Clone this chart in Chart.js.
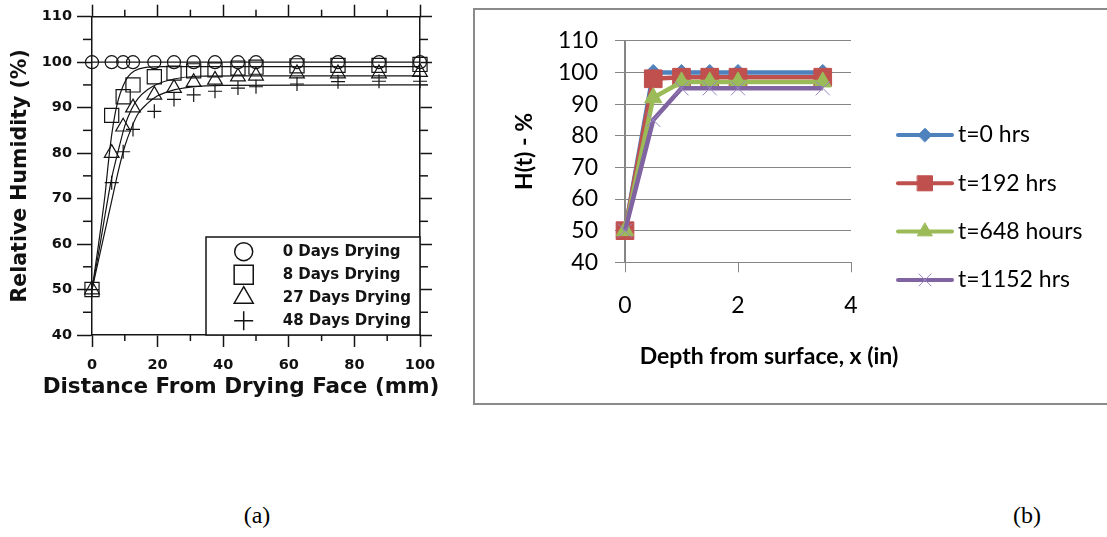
<!DOCTYPE html>
<html>
<head>
<meta charset="utf-8">
<script src="https://cdn.jsdelivr.net/npm/chart.js@4.4.0/dist/chart.umd.min.js"></script>
<style>
  html, body { margin: 0; padding: 0; background: #fff; width: 1107px; height: 537px; overflow: hidden; }
  #wrapA { position: absolute; left: 0; top: 0; width: 482px; height: 410px; }
  #frameB { position: absolute; left: 473px; top: 8px; width: 700px; height: 393px; border: 2px solid #8a8a8a; }
  #wrapB { position: absolute; left: 475px; top: 10px; width: 632px; height: 393px; }
  .cap { position: absolute; top: 502px; width: 100px; text-align: center;
         font-family: "Liberation Serif", "Times New Roman", serif; font-size: 24px; color: #000; }
</style>
</head>
<body>
<div id="wrapA"><canvas id="chartA" width="482" height="410"></canvas></div>
<div id="frameB"></div>
<div id="wrapB"><canvas id="chartB" width="632" height="393"></canvas></div>
<div class="cap" style="left:207px;">(a)</div>
<div class="cap" style="left:977px;">(b)</div>

<script>
// ---------- (a) measured relative humidity vs. distance from the drying face ----------
const distanceMm = [0, 6, 9.5, 12.5, 19, 25, 31, 37.5, 44.5, 50, 62.5, 75, 87.5, 100];
const rhDay0  = [100, 100, 100, 100, 100, 100, 100, 100, 100, 100, 100, 100, 100, 100];
const rhDay8  = [50, 88.3, 92.4, 95, 96.8, 97.6, 98.1, 98.3, 98.7, 98.9, 99.2, 99.3, 99.3, 99.5];
const rhDay27 = [50, 80, 85.8, 90, 92.8, 94.3, 95.6, 96.1, 96.8, 97, 97.5, 97.5, 97.5, 97.8];
const rhDay48 = [50, 73.5, 80.3, 85.2, 89.2, 91.8, 92.8, 93.6, 94.3, 94.6, 95.2, 95.7, 95.8, 95.8];

// fitted profiles drawn through the measurements
const fitDay0X  = [0, 100];
const fitDay0Y  = [100, 100];
const fitDay8X  = [0, 2, 4, 5, 6, 7, 8, 9.5, 11, 13, 16, 22, 100];
const fitDay8Y  = [50, 60, 71, 78, 84, 88.5, 91.7, 94.8, 96.8, 98.1, 98.8, 99, 99];
const fitDay27X = [0, 2, 4, 6, 8, 10, 12, 14, 17, 20, 25, 32, 45, 100];
const fitDay27Y = [50, 58, 66.5, 74.5, 80.5, 86, 89.6, 92, 94, 95.2, 96.3, 96.9, 97, 97];
const fitDay48X = [0, 2, 4, 6, 8, 10, 12, 14, 17, 20, 24, 30, 40, 100];
const fitDay48Y = [50, 56.5, 63, 69.5, 76, 81.5, 85.5, 88.6, 91, 92.6, 93.7, 94.5, 94.9, 95];

const distanceTicks = [0, 20, 40, 60, 80, 100];
const distanceMinor = [10, 30, 50, 70, 90];
const rhTicks = [40, 50, 60, 70, 80, 90, 100, 110];
const rhMinor = [45, 55, 65, 75, 85, 95, 105];

// ---------- (b) H(t) vs. depth from surface ----------
const depthIn   = [0, 0.5, 1, 1.5, 2, 3.5];
const hT0       = [50, 100, 100, 100, 100, 100];
const hT192     = [50, 98, 98.5, 98.5, 98.5, 98.5];
const hT648     = [50, 92, 97, 97, 97, 97];
const hT1152    = [50, 85, 95, 95, 95, 95];
const depthTicks = [0, 2, 4];
const hTicks     = [40, 50, 60, 70, 80, 90, 100, 110];

const toXY = (xs, ys) => xs.map((x, i) => ({ x, y: ys[i] }));
const useTicks = (vals) => (scale) => { scale.ticks = vals.map(v => ({ value: v })); };

// short minor tick marks on the outside of each framed axis
const minorTicks = {
  id: 'minorTicks',
  afterDraw(chart, args, opts) {
    const { ctx } = chart;
    ctx.save();
    ctx.strokeStyle = opts.color;
    ctx.lineWidth = opts.width;
    for (const [id, cfg] of Object.entries(opts.axes || {})) {
      const s = chart.scales[id];
      if (!s) continue;
      cfg.values.forEach(v => {
        const p = s.getPixelForValue(v);
        ctx.beginPath();
        if (s.position === 'bottom') { ctx.moveTo(p, s.top); ctx.lineTo(p, s.top + cfg.length); }
        else if (s.position === 'top') { ctx.moveTo(p, s.bottom); ctx.lineTo(p, s.bottom - cfg.length); }
        else if (s.position === 'left') { ctx.moveTo(s.right, p); ctx.lineTo(s.right - cfg.length, p); }
        else { ctx.moveTo(s.left, p); ctx.lineTo(s.left + cfg.length, p); }
        ctx.stroke();
      });
    }
    ctx.restore();
  }
};

// framed symbol legend in the lower right corner of the plot
const boxedLegend = {
  id: 'boxedLegend',
  afterDatasetsDraw(chart, args, opts) {
    const { ctx, chartArea: ca } = chart;
    const left = ca.right - opts.width, top = ca.bottom - opts.height;
    ctx.save();
    ctx.fillStyle = '#fff';
    ctx.fillRect(left, top, opts.width, opts.height);
    ctx.strokeStyle = opts.color;
    ctx.lineWidth = 1.5;
    ctx.strokeRect(left, top, opts.width, opts.height);
    ctx.font = opts.font;
    ctx.textBaseline = 'middle';
    chart.data.datasets.filter(d => d.legendRadius).forEach((d, i) => {
      const y = top + opts.firstRow + i * opts.rowGap;
      ctx.fillStyle = 'rgba(0,0,0,0)';
      ctx.strokeStyle = opts.color;
      Chart.helpers.drawPoint(ctx, { pointStyle: d.pointStyle, radius: d.legendRadius, borderWidth: 1.3, rotation: 0 },
        left + opts.symbolX, y);
      ctx.fillStyle = opts.color;
      ctx.fillText(d.label, left + opts.textX, y);
    });
    ctx.restore();
  }
};

// line-and-marker legend to the right of the plot
const lineLegend = {
  id: 'lineLegend',
  afterDraw(chart, args, opts) {
    const { ctx, chartArea: ca } = chart;
    const x0 = ca.right + opts.offsetX;
    ctx.save();
    ctx.font = opts.font;
    ctx.textBaseline = 'middle';
    chart.data.datasets.forEach((d, i) => {
      const y = opts.top + i * opts.rowGap;
      ctx.strokeStyle = d.borderColor;
      ctx.lineWidth = opts.lineWidth;
      ctx.lineCap = 'round';
      ctx.beginPath();
      ctx.moveTo(x0, y);
      ctx.lineTo(x0 + opts.lineLength, y);
      ctx.stroke();
      ctx.fillStyle = d.pointBackgroundColor;
      ctx.strokeStyle = d.pointBorderColor;
      ctx.lineWidth = d.pointBorderWidth;
      Chart.helpers.drawPoint(ctx, { pointStyle: d.pointStyle, radius: d.pointRadius * opts.markerScale,
        borderWidth: d.pointBorderWidth, rotation: 0 }, x0 + opts.lineLength / 2, y);
      ctx.fillStyle = '#000';
      ctx.fillText(d.label, x0 + opts.lineLength + opts.gap, y);
    });
    ctx.restore();
  }
};

// ---------------- chart (a) ----------------
const ink = '#141414';
const fontA = '"DejaVu Sans", "Liberation Sans", Arial, sans-serif';
const marker = (style, r, lr) => ({
  pointStyle: style, pointRadius: r, legendRadius: lr,
  pointBorderColor: ink, pointBackgroundColor: 'rgba(0,0,0,0)', pointBorderWidth: 1.2,
  showLine: false, clip: false
});
const fit = (xs, ys) => ({
  data: toXY(xs, ys), showLine: true, pointRadius: 0, borderColor: ink, borderWidth: 1.2,
  cubicInterpolationMode: 'monotone', clip: false
});

new Chart(document.getElementById('chartA'), {
  type: 'scatter',
  data: {
    datasets: [
      { label: '0 Days Drying',  data: toXY(distanceMm, rhDay0),  ...marker('circle', 6.5, 9) },
      { label: '8 Days Drying',  data: toXY(distanceMm, rhDay8),  ...marker('rect', 10, 13.5) },
      { label: '27 Days Drying', data: toXY(distanceMm, rhDay27), ...marker('triangle', 8.5, 11) },
      { label: '48 Days Drying', data: toXY(distanceMm, rhDay48), ...marker('cross', 7, 9.5) },
      fit(fitDay0X, fitDay0Y),
      fit(fitDay8X, fitDay8Y),
      fit(fitDay27X, fitDay27Y),
      fit(fitDay48X, fitDay48Y)
    ]
  },
  plugins: [minorTicks, boxedLegend],
  options: {
    responsive: false, animation: false, events: [],
    font: { family: fontA },
    layout: { padding: 0 },
    scales: {
      x: {
        type: 'linear', axis: 'x', position: 'bottom', min: 0, max: 100,
        afterBuildTicks: useTicks(distanceTicks),
        afterFit: s => { s.height = 40; },
        grid: { drawOnChartArea: false, tickLength: 12, tickColor: ink, tickWidth: 1.5 },
        border: { color: ink, width: 1.5 },
        ticks: { color: '#111', padding: 9.5, font: { family: fontA, size: 14.5, weight: 'bold' } }
      },
      x2: {
        type: 'linear', axis: 'x', position: 'top', min: 0, max: 100,
        afterBuildTicks: useTicks(distanceTicks),
        afterFit: s => { s.height = 16.7; },
        grid: { drawOnChartArea: false, tickLength: 12, tickColor: ink, tickWidth: 1.5 },
        border: { color: ink, width: 1.5 },
        ticks: { display: false }
      },
      y: {
        type: 'linear', axis: 'y', position: 'left', min: 40, max: 110,
        afterBuildTicks: useTicks(rhTicks),
        afterFit: s => { s.width = 92; },
        grid: { drawOnChartArea: false, tickLength: 15, tickColor: ink, tickWidth: 1.5 },
        border: { color: ink, width: 1.5 },
        ticks: { color: '#111', padding: 5, font: { family: fontA, size: 14.5, weight: 'bold' } },
        title: { display: true, text: 'Relative Humidity (%)', color: '#111',
                 font: { family: fontA, size: 20.5, weight: 'bold' }, padding: { top: 8, bottom: 0 } }
      },
      y2: {
        type: 'linear', axis: 'y', position: 'right', min: 40, max: 110,
        afterBuildTicks: useTicks(rhTicks),
        afterFit: s => { s.width = 62; },
        grid: { drawOnChartArea: false, tickLength: 12, tickColor: ink, tickWidth: 1.5 },
        border: { color: ink, width: 1.5 },
        ticks: { display: false }
      }
    },
    plugins: {
      legend: { display: false },
      tooltip: { enabled: false },
      title: {
        display: true, position: 'bottom', text: 'Distance From Drying Face (mm)', color: '#111',
        font: { family: fontA, size: 21.5, weight: 'bold' }, padding: { top: 0, bottom: 9.2 }
      },
      minorTicks: {
        color: ink, width: 1.5,
        axes: {
          x:  { values: distanceMinor, length: 6 },
          x2: { values: distanceMinor, length: 7 },
          y:  { values: rhMinor, length: 9 },
          y2: { values: rhMinor, length: 8 }
        }
      },
      boxedLegend: {
        width: 214, height: 98, firstRow: 14.7, rowGap: 23, symbolX: 37.7, textX: 76.7,
        color: ink, font: 'bold 15px ' + fontA
      }
    }
  }
});

// ---------------- chart (b) ----------------
const fontB = 'Lato, "Open Sans", "Liberation Sans", sans-serif';
const gridGray = '#868686';
const series = (label, ys, color, style, r, order, extra) => Object.assign({
  label, data: toXY(depthIn, ys), showLine: true, borderColor: color, borderWidth: 4.5,
  pointStyle: style, pointRadius: r, pointBackgroundColor: color, pointBorderColor: color,
  pointBorderWidth: 1, tension: 0, clip: false, order
}, extra || {});

new Chart(document.getElementById('chartB'), {
  type: 'scatter',
  data: {
    datasets: [
      series('t=0 hrs',     hT0,    '#4F81BD', 'rectRot',  8,    3),
      series('t=192 hrs',   hT192,  '#C0504D', 'rect',     12.5, 2),
      series('t=648 hours', hT648,  '#9BBB59', 'triangle', 10,   1),
      series('t=1152 hrs',  hT1152, '#8064A2', 'crossRot', 10,   0,
             { pointBorderColor: '#9a86c6', pointBackgroundColor: '#9a86c6' })
    ]
  },
  plugins: [lineLegend],
  options: {
    responsive: false, animation: false, events: [],
    font: { family: fontB },
    layout: { padding: { left: 0, right: 44, top: 28.3, bottom: 0 } },
    scales: {
      x: {
        type: 'linear', axis: 'x', position: 'bottom', min: 0, max: 4,
        afterBuildTicks: useTicks(depthTicks),
        afterFit: s => { s.height = 70; },
        grid: { drawOnChartArea: false, tickLength: 10, tickColor: gridGray, tickWidth: 1 },
        border: { color: gridGray, width: 1 },
        ticks: { color: '#000', padding: 19, font: { family: fontB, size: 23 } }
      },
      y: {
        type: 'linear', axis: 'y', position: 'left', min: 40, max: 110,
        afterBuildTicks: useTicks(hTicks),
        afterFit: s => { s.width = 150; },
        grid: { color: gridGray, lineWidth: 1, tickLength: 10, tickColor: gridGray },
        border: { color: gridGray, width: 2 },
        ticks: { color: '#000', padding: 17, font: { family: fontB, size: 23 } },
        title: { display: true, text: 'H(t) - %', color: '#000',
                 font: { family: fontB, size: 23, weight: 'bold' }, padding: { top: 36, bottom: 0 } }
      },
      yR: {
        type: 'linear', axis: 'y', position: 'right', min: 0, max: 1,
        afterFit: s => { s.width = 212; },
        grid: { display: false }, border: { display: false }, ticks: { display: false }
      }
    },
    plugins: {
      legend: { display: false },
      tooltip: { enabled: false },
      title: {
        display: true, position: 'bottom', text: 'Depth from surface, x (in)', color: '#000',
        font: { family: fontB, size: 23, weight: 'bold' }, padding: { top: 10.9, bottom: 32.2 }
      },
      lineLegend: {
        offsetX: 47, lineLength: 54, gap: 6, top: 125, rowGap: 48.3, lineWidth: 4,
        markerScale: 0.85, font: '23px ' + fontB
      }
    }
  }
});
</script>
</body>
</html>
